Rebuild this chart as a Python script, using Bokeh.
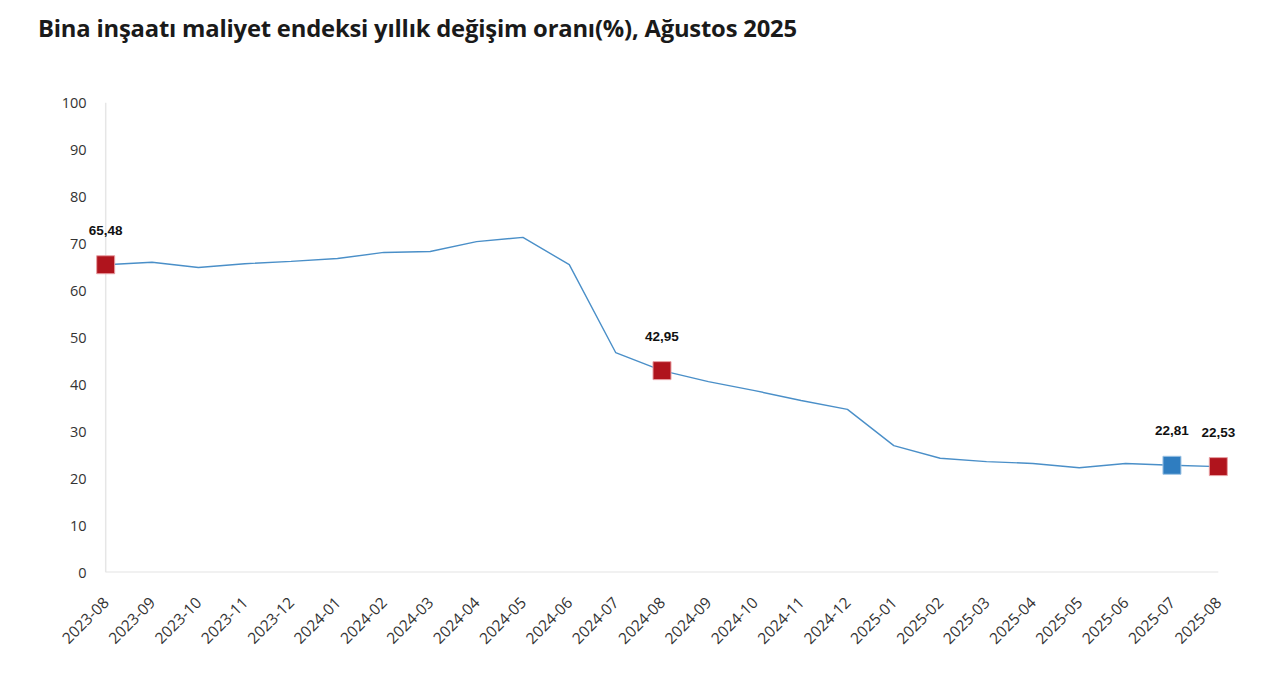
from bokeh.plotting import figure
from bokeh.models import Range1d, FixedTicker, Span, ColumnDataSource, Div, LabelSet
from bokeh.layouts import column
from bokeh.core.properties import value
from bokeh.embed import file_html
from bokeh.resources import INLINE

months = ["2023-08", "2023-09", "2023-10", "2023-11", "2023-12", "2024-01", "2024-02",
          "2024-03", "2024-04", "2024-05", "2024-06", "2024-07", "2024-08", "2024-09",
          "2024-10", "2024-11", "2024-12", "2025-01", "2025-02", "2025-03", "2025-04",
          "2025-05", "2025-06", "2025-07", "2025-08"]
rates = [65.48, 66.0, 64.9, 65.7, 66.2, 66.8, 68.1, 68.3, 70.4, 71.3, 65.5, 46.8, 42.95,
         40.6, 38.7, 36.6, 34.7, 27.0, 24.3, 23.6, 23.2, 22.3, 23.2, 22.81, 22.53]
red_months = ["2023-08", "2024-08", "2025-08"]
red_values = [65.48, 42.95, 22.53]
red_labels = ["65,48", "42,95", "22,53"]
blue_months = ["2025-07"]
blue_values = [22.81]
blue_labels = ["22,81"]
y_ticks = [0, 10, 20, 30, 40, 50, 60, 70, 80, 90, 100]

idx = {m: i for i, m in enumerate(months)}
xs = list(range(len(months)))

title = Div(text="Bina inşaatı maliyet endeksi yıllık değişim oranı(%), Ağustos 2025",
            width=1264, height=48, margin=(0, 0, 0, 0),
            styles={"font-family": "Open Sans", "font-weight": "bold", "font-size": "23.8px",
                    "color": "#1a1a1a", "line-height": "40px", "padding-left": "38px",
                    "padding-top": "8px", "white-space": "nowrap", "letter-spacing": "-0.2px"})

p = figure(width=1264, height=630, output_backend="svg", toolbar_location=None,
           x_range=Range1d(-0.5, len(months) - 0.5), y_range=Range1d(0, 100),
           min_border_left=82, min_border_right=23, min_border_top=54, min_border_bottom=106)
p.outline_line_color = None
p.grid.grid_line_color = None
p.background_fill_color = "white"
p.border_fill_color = "white"

p.add_layout(Span(location=xs[0], dimension="height", line_color="#e6e6e6", line_width=1.5,
                  level="underlay"))
p.segment(x0=[xs[0]], y0=[y_ticks[0]], x1=[xs[-1]], y1=[y_ticks[0]],
          line_color="#e3e3e3", line_width=2)

p.line(xs, rates, line_color="#4a8fc8", line_width=1.4)

rsrc = ColumnDataSource(dict(x=[idx[m] for m in red_months], y=red_values, t=red_labels))
bsrc = ColumnDataSource(dict(x=[idx[m] for m in blue_months], y=blue_values, t=blue_labels))
p.scatter("x", "y", source=rsrc, marker="square", size=18, fill_color="#b0141d",
          line_color="#e8a0a4", line_width=1)
p.scatter("x", "y", source=bsrc, marker="square", size=18, fill_color="#2f7dc0",
          line_color="#9cc3e4", line_width=1)
for src in (rsrc, bsrc):
    p.add_layout(LabelSet(x="x", y="y", text="t", source=src, text_align="center",
                          text_baseline="bottom", y_offset=30,
                          text_font=value("Liberation Sans"), text_font_style="bold",
                          text_font_size="13.5px", text_color="#111111"))

p.yaxis.ticker = FixedTicker(ticks=y_ticks)
p.yaxis.axis_line_color = None
p.yaxis.major_tick_line_color = None
p.yaxis.minor_tick_line_color = None
p.yaxis.major_tick_in = 0
p.yaxis.major_tick_out = 0
p.yaxis.major_label_standoff = -4
p.yaxis.major_label_text_font = "Open Sans"
p.yaxis.major_label_text_font_size = "14.5px"
p.yaxis.major_label_text_color = "#333333"

p.xaxis.ticker = FixedTicker(ticks=xs)
p.xaxis.major_label_overrides = {i: m for i, m in enumerate(months)}
p.xaxis.major_label_orientation = 0.785398
p.xaxis.axis_line_color = None
p.xaxis.major_tick_line_color = None
p.xaxis.minor_tick_line_color = None
p.xaxis.major_tick_in = 0
p.xaxis.major_tick_out = 0
p.xaxis.major_label_standoff = 27
p.xaxis.major_label_text_font = "Open Sans"
p.xaxis.major_label_text_font_size = "15.5px"
p.xaxis.major_label_text_color = "#333333"

layout = column(title, p, spacing=0)
open("out.html", "w").write(file_html(layout, INLINE))
